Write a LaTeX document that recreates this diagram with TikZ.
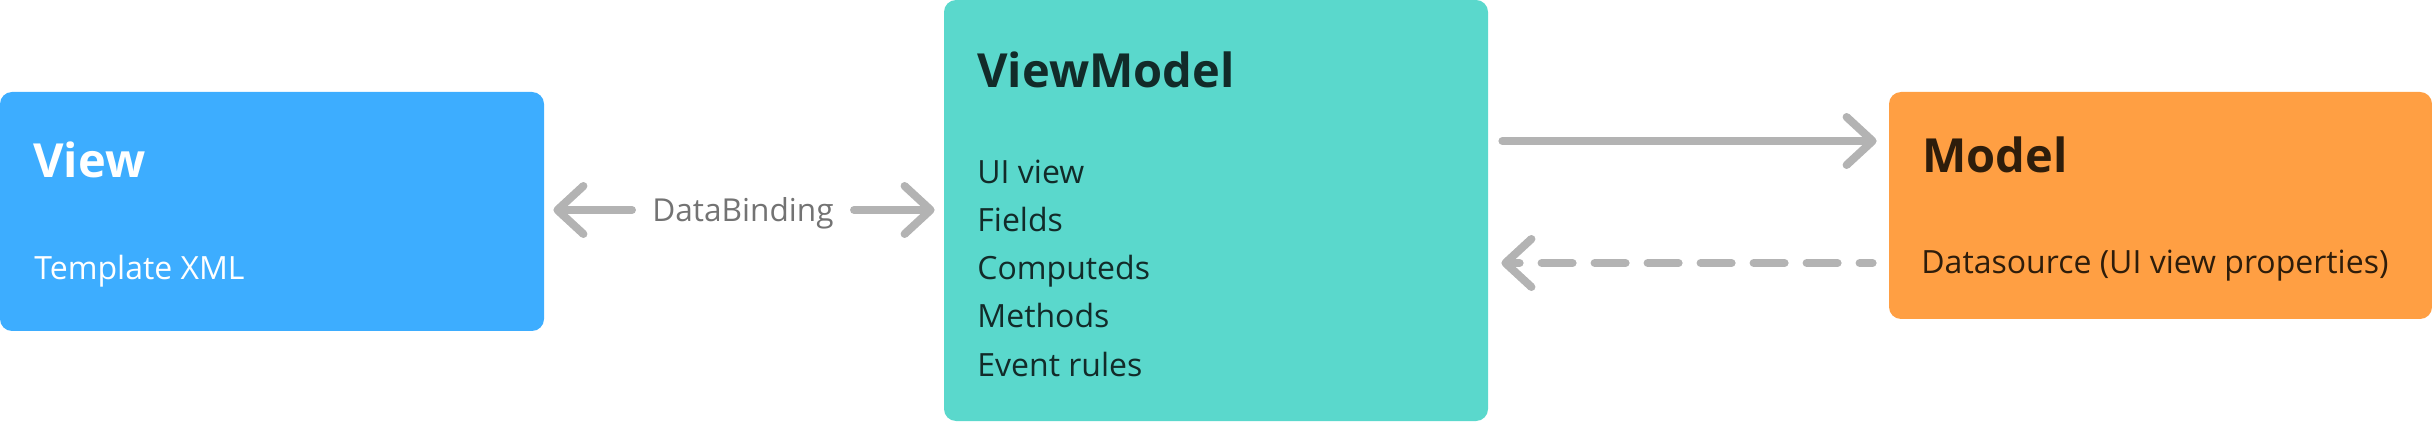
\documentclass[tikz,border=0pt]{standalone}
\usepackage{fontspec}
\setmainfont{Open Sans}
\usetikzlibrary{arrows.meta}
\definecolor{viewblue}{HTML}{3DADFF}
\definecolor{vmteal}{HTML}{5AD8CC}
\definecolor{modelorange}{HTML}{FF9F43}
\definecolor{conngray}{HTML}{B3B3B3}
\definecolor{labelgray}{HTML}{737373}
\definecolor{vmtext}{HTML}{122B29}
\definecolor{modeltext}{HTML}{2E1D0B}
\begin{document}
\begin{tikzpicture}[x=0.5pt,y=-0.5pt,
 box/.style={rectangle, rounded corners=6pt, inner sep=0pt, draw=none},
 titletext/.style={anchor=base west, inner sep=0pt, font=\bfseries\fontsize{23.5}{27}\selectfont},
 bodytext/.style={anchor=base west, inner sep=0pt, font=\fontsize{16}{19}\selectfont},
 conn/.style={draw=conngray, line width=4pt, line cap=round, line join=round, -{Straight Barb[length=13pt,width=24pt,round]}},
]
\useasboundingbox (0,0) rectangle (2432,422);
% boxes
\node[box, fill=viewblue, minimum width=272pt, minimum height=119.5pt] (view) at (272,211.5) {};
\node[box, fill=vmteal, minimum width=272pt, minimum height=210.5pt] (vm) at (1216,210.5) {};
\node[box, fill=modelorange, minimum width=271.5pt, minimum height=113.5pt] (model) at (2160.5,205.5) {};
% View texts
\node[titletext, text=white] (viewtitle) at (33,178) {View};
\node[bodytext, text=white] (viewbody) at (34,280) {Template XML};
% ViewModel texts
\node[titletext, text=vmtext] (vmtitle) at (977,88) {ViewModel};
\node[bodytext, text=vmtext] (vmi1) at (977,184) {UI view};
\node[bodytext, text=vmtext] (vmi2) at (977,232) {Fields};
\node[bodytext, text=vmtext] (vmi3) at (977,280) {Computeds};
\node[bodytext, text=vmtext] (vmi4) at (977,328) {Methods};
\node[bodytext, text=vmtext] (vmi5) at (977,377) {Event rules};
% Model texts
\node[titletext, text=modeltext] (modeltitle) at (1922,173) {Model};
\node[bodytext, text=modeltext] (modelbody) at (1921,274) {Datasource (UI view properties)};
% DataBinding label
\node[inner sep=0pt, text height=12pt, text depth=0pt, text=labelgray, font=\fontsize{15.8}{19}\selectfont] (db) at (743,210) {DataBinding};
% connectors
\draw[conn, shorten <=10pt, shorten >=4.5pt] (db.west) -- (db.west -| view.east);
\draw[conn, shorten <=10pt, shorten >=4.5pt] (db.east) -- (db.east -| vm.west);
\draw[conn, shorten <=7pt, shorten >=6pt] ([yshift=32.25pt]model.west -| vm.east) -- ([yshift=32.25pt]model.west);
\draw[conn, dash pattern=on 15.5pt off 11pt, dash phase=9pt, shorten <=8pt, shorten >=6.5pt] ([yshift=-28.75pt]model.west) -- ([yshift=-28.75pt]model.west -| vm.east);
\end{tikzpicture}
\end{document}
